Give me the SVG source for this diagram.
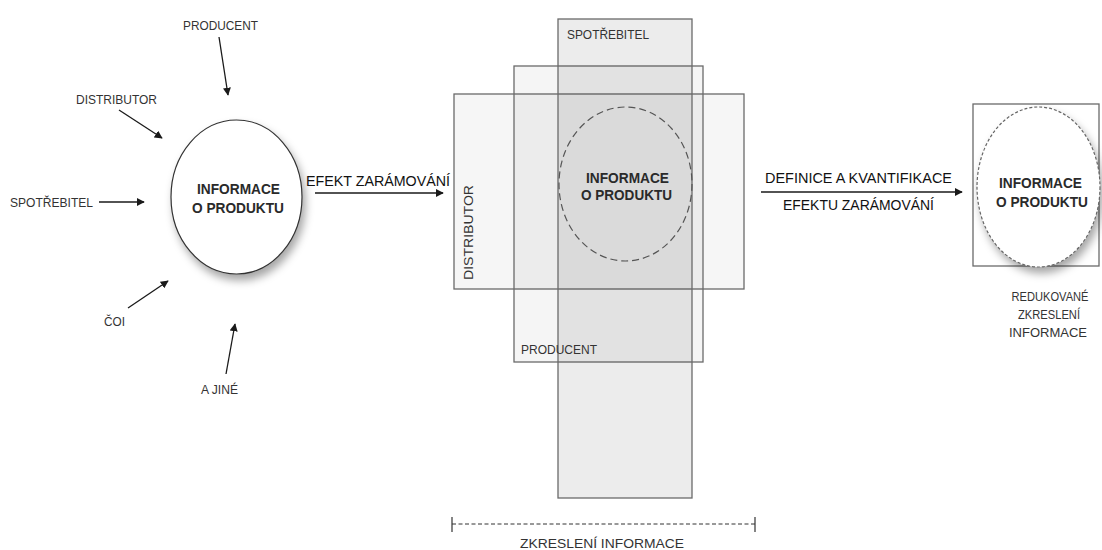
<svg xmlns="http://www.w3.org/2000/svg" width="1102" height="550" viewBox="0 0 1102 550">
  <defs>
    <marker id="arrow" viewBox="0 0 10 10" refX="9" refY="5" markerWidth="8" markerHeight="8" markerUnits="userSpaceOnUse" orient="auto">
      <path d="M0,0 L10,5 L0,10 z" fill="#1a1a1a"/>
    </marker>
    <filter id="shadow" x="-20%" y="-20%" width="150%" height="150%">
      <feDropShadow dx="3" dy="6" stdDeviation="4" flood-color="#000" flood-opacity="0.35"/>
    </filter>
  </defs>
  <style>
    text { font-family: "Liberation Sans", Arial, sans-serif; fill: #333; }
    .lbl { font-size: 13.5px; }
    .note { font-size: 13px; }
    .big { font-size: 15px; fill: #111; }
    .bold { font-size: 15px; font-weight: bold; fill: #2a2a2a; }
    .conn { stroke: #1a1a1a; stroke-width: 1.3; fill: none; marker-end: url(#arrow); }
    .band { stroke: #6a6a6a; stroke-width: 1.3; fill: #000; }
  </style>
  <rect width="1102" height="550" fill="#fff"/>

  <!-- source node: product information -->
  <g id="node-info-source">
    <ellipse cx="236.5" cy="197" rx="65.5" ry="77" fill="#fff" stroke="#333" stroke-width="1.2" filter="url(#shadow)"/>
    <text class="bold" x="238.5" y="194" text-anchor="middle" textLength="83" lengthAdjust="spacingAndGlyphs">INFORMACE</text>
    <text class="bold" x="238" y="213" text-anchor="middle" textLength="92" lengthAdjust="spacingAndGlyphs">O PRODUKTU</text>
  </g>

  <g id="node-producent"><text class="lbl" x="183" y="30" textLength="75" lengthAdjust="spacingAndGlyphs">PRODUCENT</text></g>
  <g id="node-distributor"><text class="lbl" x="76" y="104" textLength="81" lengthAdjust="spacingAndGlyphs">DISTRIBUTOR</text></g>
  <g id="node-spotrebitel"><text class="lbl" x="10" y="207" textLength="83" lengthAdjust="spacingAndGlyphs">SPOTŘEBITEL</text></g>
  <g id="node-coi"><text class="lbl" x="104" y="326" textLength="21" lengthAdjust="spacingAndGlyphs">ČOI</text></g>
  <g id="node-ajine"><text class="lbl" x="201" y="394" textLength="37" lengthAdjust="spacingAndGlyphs">A JINÉ</text></g>

  <!-- overlapping framing bands -->
  <g id="node-framing">
    <rect class="band" x="454" y="94" width="290" height="195" fill-opacity="0.035"/>
    <rect class="band" x="514" y="66" width="189" height="296" fill-opacity="0.04"/>
    <rect class="band" x="558" y="19" width="134" height="479" fill-opacity="0.075"/>
    <ellipse cx="625.5" cy="184" rx="66.5" ry="77" fill="none" stroke="#555" stroke-width="1.2" stroke-dasharray="7 4"/>
    <text class="lbl" x="567" y="39" textLength="82" lengthAdjust="spacingAndGlyphs">SPOTŘEBITEL</text>
    <text class="lbl" transform="translate(473,280) rotate(-90)" x="0" y="0" textLength="95" lengthAdjust="spacingAndGlyphs">DISTRIBUTOR</text>
    <text class="lbl" x="521" y="354" textLength="76" lengthAdjust="spacingAndGlyphs">PRODUCENT</text>
    <text class="bold" x="627.5" y="183" text-anchor="middle" textLength="83" lengthAdjust="spacingAndGlyphs">INFORMACE</text>
    <text class="bold" x="626.5" y="200" text-anchor="middle" textLength="91" lengthAdjust="spacingAndGlyphs">O PRODUKTU</text>
  </g>

  <!-- distortion span -->
  <g id="node-distortion">
    <line x1="452" y1="524" x2="755" y2="524" stroke="#333" stroke-width="1" stroke-dasharray="4 2.5"/>
    <line x1="452" y1="517" x2="452" y2="532" stroke="#333" stroke-width="1.2"/>
    <line x1="755" y1="517" x2="755" y2="532" stroke="#333" stroke-width="1.2"/>
    <text class="lbl" x="520" y="548" textLength="164" lengthAdjust="spacingAndGlyphs">ZKRESLENÍ INFORMACE</text>
  </g>

  <!-- reduced result -->
  <g id="node-info-result">
    <rect x="973" y="104" width="126" height="162" fill="#fff" stroke="#6a6a6a" stroke-width="1.3"/>
    <ellipse cx="1038.5" cy="187" rx="61.5" ry="80" fill="#fff" stroke="#666" stroke-width="1.2" stroke-dasharray="3 2" filter="url(#shadow)"/>
    <text class="bold" x="1040.5" y="188" text-anchor="middle" textLength="83" lengthAdjust="spacingAndGlyphs">INFORMACE</text>
    <text class="bold" x="1042" y="207" text-anchor="middle" textLength="92" lengthAdjust="spacingAndGlyphs">O PRODUKTU</text>
    <text class="note" x="1050" y="301" text-anchor="middle" textLength="77" lengthAdjust="spacingAndGlyphs">REDUKOVANÉ</text>
    <text class="note" x="1049" y="319" text-anchor="middle" textLength="62" lengthAdjust="spacingAndGlyphs">ZKRESLENÍ</text>
    <text class="note" x="1048" y="337" text-anchor="middle" textLength="78" lengthAdjust="spacingAndGlyphs">INFORMACE</text>
  </g>

  <!-- connectors -->
  <g id="connectors">
    <line class="conn" x1="219" y1="37" x2="228" y2="95"/>
    <line class="conn" x1="119" y1="110" x2="162" y2="138"/>
    <line class="conn" x1="99" y1="202" x2="144" y2="202"/>
    <line class="conn" x1="128" y1="308" x2="168" y2="281"/>
    <line class="conn" x1="226" y1="374" x2="235" y2="324"/>
    <line class="conn" x1="315" y1="193" x2="443" y2="193"/>
    <text class="big" x="306" y="186" textLength="144" lengthAdjust="spacingAndGlyphs">EFEKT ZARÁMOVÁNÍ</text>
    <line class="conn" x1="761" y1="192" x2="962" y2="192"/>
    <text class="big" x="765" y="183" textLength="187" lengthAdjust="spacingAndGlyphs">DEFINICE A KVANTIFIKACE</text>
    <text class="big" x="783" y="210" textLength="151" lengthAdjust="spacingAndGlyphs">EFEKTU ZARÁMOVÁNÍ</text>
  </g>
</svg>
